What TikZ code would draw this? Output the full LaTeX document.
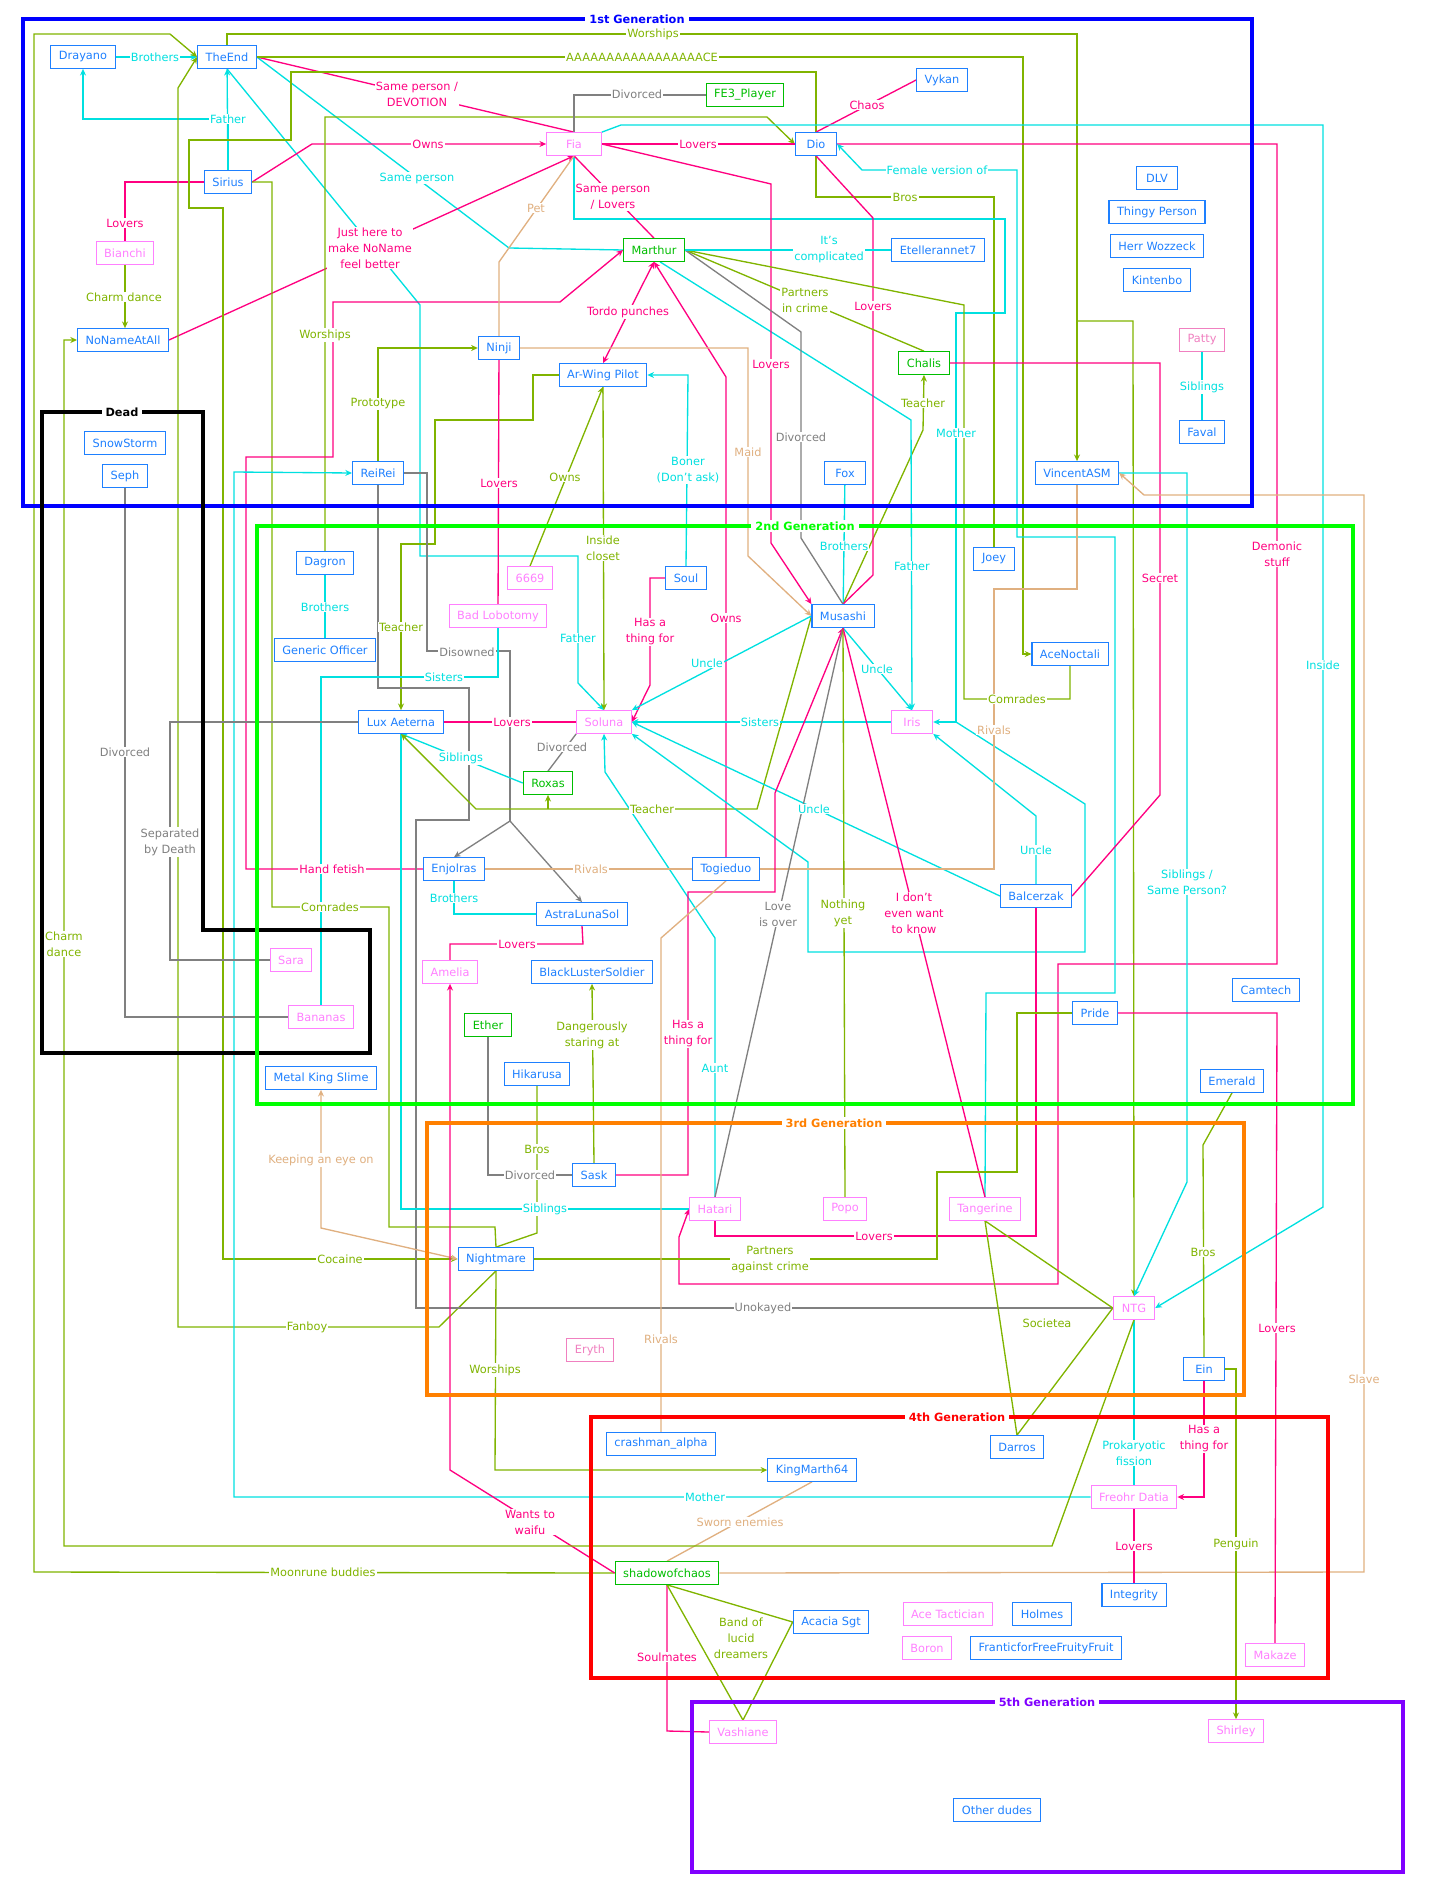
\documentclass[tikz,border=0pt]{standalone}
\usepackage{fontspec}
\setmainfont{DejaVu Sans}
\usetikzlibrary{arrows.meta}
\pgfdeclarelayer{lines}
\pgfdeclarelayer{frames}
\pgfsetlayers{lines,frames,main}

\definecolor{pBlue}{RGB}{30,128,255}
\definecolor{pPink}{RGB}{255,128,255}
\definecolor{pGreen}{RGB}{0,190,0}
\definecolor{pSalmon}{RGB}{240,128,192}
\definecolor{eCyan}{RGB}{0,224,224}
\definecolor{ePink}{RGB}{255,0,128}
\definecolor{eGreen}{RGB}{128,180,0}
\definecolor{eGray}{RGB}{128,128,128}
\definecolor{eTan}{RGB}{224,176,128}
\definecolor{fBlue}{RGB}{0,0,255}
\definecolor{fGreen}{RGB}{0,255,0}
\definecolor{fOrange}{RGB}{255,128,0}
\definecolor{fRed}{RGB}{255,0,0}
\definecolor{fPurple}{RGB}{128,0,255}

\begin{document}
\begin{tikzpicture}[
    x=0.75pt, y=-0.75pt,
    every node/.style={font=\fontsize{8.5}{12}\selectfont},
    pers/.style={rectangle, draw=pBlue, text=pBlue, fill=white, line width=0.8pt, minimum height=17pt, minimum width=31pt, inner xsep=6pt, inner ysep=0pt},
    persP/.style={pers, draw=pPink, text=pPink},
    persG/.style={pers, draw=pGreen, text=pGreen},
    persS/.style={pers, draw=pSalmon, text=pSalmon},
    rel/.style={line width=1pt},
    cy/.style={rel, draw=eCyan},
    pk/.style={rel, draw=ePink},
    gr/.style={rel, draw=eGreen},
    gy/.style={rel, draw=eGray},
    tn/.style={rel, draw=eTan},
    arr/.style={-{Stealth[length=5pt,width=4.5pt]}},
    arrs/.style={{Stealth[length=5pt,width=4.5pt]}-{Stealth[length=5pt,width=4.5pt]}},
    lbl/.style={fill=white, inner sep=0.8pt, align=center},
    lc/.style={lbl, text=eCyan},
    lp/.style={lbl, text=ePink},
    lg/.style={lbl, text=eGreen},
    ly/.style={lbl, text=eGray},
    lt/.style={lbl, text=eTan},
    genframe/.style={line width=3pt},
    gentitle/.style={fill=white, inner xsep=3pt, inner ysep=1pt, font=\fontsize{8.5}{12}\selectfont\bfseries}
]
    \useasboundingbox (0,0) rectangle (1436,1890);

    % 1st generation
    \node[pers] (drayano) at (83,57) {Drayano};
    \node[pers] (theend) at (227,57) {TheEnd};
    \node[pers] (sirius) at (228,182) {Sirius};
    \node[persP] (bianchi) at (125,253) {Bianchi};
    \node[pers] (nonameatall) at (123,340) {NoNameAtAll};
    \node[persP, minimum width=41pt] (fia) at (574,144) {Fia};
    \node[persG] (fe3) at (745,95) {FE3\_Player};
    \node[pers] (dio) at (816,144) {Dio};
    \node[pers] (vykan) at (942,80) {Vykan};
    \node[persG] (marthur) at (654,250) {Marthur};
    \node[pers] (etelle) at (938,250) {Etellerannet7};
    \node[pers] (ninji) at (499,348) {Ninji};
    \node[pers] (arwing) at (603,375) {Ar-Wing Pilot};
    \node[persG] (chalis) at (924,363) {Chalis};
    \node[pers] (reirei) at (378,473) {ReiRei};
    \node[pers] (fox) at (845,473) {Fox};
    \node[pers] (vincent) at (1077,473) {VincentASM};
    \node[pers] (dlv) at (1157,178) {DLV};
    \node[pers] (thingy) at (1157,212) {Thingy Person};
    \node[pers] (herr) at (1157,246) {Herr Wozzeck};
    \node[pers] (kintenbo) at (1157,280) {Kintenbo};
    \node[persS] (patty) at (1202,340) {Patty};
    \node[pers] (faval) at (1202,432) {Faval};
    % dead
    \node[pers] (snowstorm) at (125,443) {SnowStorm};
    \node[pers] (seph) at (125,476) {Seph};
    \node[persP] (sara) at (291,960) {Sara};
    \node[persP] (bananas) at (321,1017) {Bananas};
    % 2nd generation
    \node[pers] (dagron) at (325,563) {Dagron};
    \node[pers] (generic) at (325,650) {Generic Officer};
    \node[persP] (n6669) at (530,578) {6669};
    \node[pers] (soul) at (686,578) {Soul};
    \node[persP] (badlob) at (498,616) {Bad Lobotomy};
    \node[pers] (musashi) at (843,616) {Musashi};
    \node[pers] (joey) at (994,559) {Joey};
    \node[pers] (acenoc) at (1070,654) {AceNoctali};
    \node[pers] (luxa) at (401,722) {Lux Aeterna};
    \node[persP] (soluna) at (604,722) {Soluna};
    \node[persP] (iris) at (912,722) {Iris};
    \node[persG] (roxas) at (548,783) {Roxas};
    \node[pers] (enjolras) at (454,869) {Enjolras};
    \node[pers] (togieduo) at (726,869) {Togieduo};
    \node[pers] (balcerzak) at (1036,896) {Balcerzak};
    \node[pers] (astra) at (582,914) {AstraLunaSol};
    \node[persP] (amelia) at (450,972) {Amelia};
    \node[pers] (bls) at (592,972) {BlackLusterSoldier};
    \node[persG] (ether) at (488,1025) {Ether};
    \node[pers] (hikarusa) at (537,1074) {Hikarusa};
    \node[pers] (camtech) at (1266,990) {Camtech};
    \node[pers] (pride) at (1095,1013) {Pride};
    \node[pers] (metalking) at (321,1078) {Metal King Slime};
    \node[pers] (emerald) at (1232,1081) {Emerald};
    % 3rd generation
    \node[pers] (sask) at (594,1175) {Sask};
    \node[persP] (hatari) at (715,1209) {Hatari};
    \node[persP] (popo) at (845,1209) {Popo};
    \node[persP] (tangerine) at (985,1209) {Tangerine};
    \node[pers] (nightmare) at (496,1259) {Nightmare};
    \node[persP] (ntg) at (1134,1308) {NTG};
    \node[persS] (eryth) at (590,1350) {Eryth};
    \node[pers] (ein) at (1204,1369) {Ein};
    % 4th generation
    \node[pers] (crashman) at (661,1444) {crashman\_alpha};
    \node[pers] (kingmarth) at (812,1470) {KingMarth64};
    \node[pers] (darros) at (1017,1447) {Darros};
    \node[persP] (freohr) at (1134,1497) {Freohr Datia};
    \node[persG] (shadow) at (667,1573) {shadowofchaos};
    \node[pers] (integrity) at (1134,1595) {Integrity};
    \node[pers] (acacia) at (831,1622) {Acacia Sgt};
    \node[persP] (acetac) at (948,1614) {Ace Tactician};
    \node[pers] (holmes) at (1042,1614) {Holmes};
    \node[persP] (boron) at (927,1648) {Boron};
    \node[pers] (frantic) at (1046,1648) {FranticforFreeFruityFruit};
    \node[persP] (makaze) at (1275,1655) {Makaze};
    % 5th generation
    \node[persP] (vashiane) at (743,1732) {Vashiane};
    \node[persP] (shirley) at (1236,1731) {Shirley};
    \node[pers] (otherdudes) at (997,1810) {Other dudes};

    \begin{pgfonlayer}{lines}
    \draw[cy,arr] (drayano) -- (theend);
    \draw[cy,arr] (sirius) -- (theend);
    \draw[cy,arr] (sirius.north) -- (228,119) -| (drayano);
    \draw[cy,arr] (theend.south) -- (420,305) -- (420,556) -- (578,556) -- (578,683) -- (soluna.north);
    \draw[cy] (theend.east) -- (509,248) -- (marthur.west);
    \draw[pk] (theend.east) -- (fia.north);
    \draw[pk,arr] (sirius.east) -- (312,144) -- (fia.west);
    \draw[pk] (sirius.west) -| (bianchi);
    \draw[gr,arr] (bianchi.south) -- (bianchi.south |- nonameatall.north);
    \draw[pk,arr] (nonameatall.east) -- (fia.south);
    \draw[gr,arr] (shadow.west) -- (34,1572) -- (34,34) -- (170,34) -- (theend.west);
    \draw[gr,arr] (nightmare.south) -- (439,1327) -- (178,1327) -- (178,88) -- (theend.west);
    \draw[gr,arr] (theend.north) -- (227,34) -- (1077,34) -- (vincent.north);
    \draw[gr,arr] (theend.north) -- (227,34) -- (1077,34) -- (1077,321) -- (1133,321) -- (ntg.north);
    \draw[gr,arr] (theend.east) -- (1023,57) -- (1023,654) -- (acenoc.west);
    \draw[gr,arr] (dio.north) -- (816,72) -- (291,72) -- (291,140) -- (189,140) -- (189,208) -- (223,208) -- (223,1259) -- (nightmare.west);
    \draw[gr] (dio.south) -- (816,197) -- (994,197) -- (joey.north);
    \draw[gr,arr] (dagron.north) -- (325,117) -- (767,117) -- (dio.west);
    \draw[gr] (sirius.east) -- (272,182) -- (272,907) -- (389,907) -- (389,1227) -- (495,1227) -- (nightmare.north);
    \draw[gr,arr] (reirei.north) -- (378,348) -- (ninji.west);
    \draw[gr,arr] (arwing.west) -- (533,375) -- (533,420) -- (435,420) -- (435,544) -- (401,544) -- (luxa.north);
    \draw[pk,arr] (enjolras.west) -- (246,869) -- (246,457) -- (333,457) -- (333,302) -- (560,302) -- (marthur.west);
    \draw[cy,arr] (freohr.west) -- (234,1497) -- (234,472) -- (reirei.west);
    \draw[gy] (reirei.east) -- (427,473) -- (427,651) -- (510,651) -- (510,821) coordinate (dis);
    \draw[gy,arr] (dis) -- (enjolras.north);
    \draw[gy,arr] (dis) -- (astra.north);
    \draw[gy] (reirei.south) -- (378,688) -- (469,688) -- (469,820) -- (416,820) -- (416,1308) -- (ntg.west);
    \draw[cy] (badlob.south) -- (498,677) -- (321,677) -- (bananas.north);
    \draw[gy] (seph.south) |- (bananas.west);
    \draw[gy] (luxa.west) -- (170,722) -- (170,960) -- (sara.west);
    \draw[cy] (dagron) -- (generic);
    \draw[cy] (enjolras.south) |- (astra.west);
    \draw[cy,arr] (roxas.west) -- (luxa.south);
    \draw[cy] (luxa.south) -- (401,1209) -- (hatari.west);
    \draw[gr,arr] (musashi.west) -- (757,809) -- (548,809) coordinate (tch) -- (476,809) -- (luxa.south);
    \draw[gr,arr] (tch) -- (roxas.south);
    \draw[gr,arr] (musashi.north) -- (900,480) -- (923,430) -- (chalis.south);
    \draw[cy] (fox) -- (musashi);
    \draw[gr,arr] (arwing.south) -- (soluna.north);
    \draw[gr,arr] (n6669.north) -- (arwing.south);
    \draw[cy,arr] (soul.north) -- (688,375) -- (arwing.east);
    \draw[pk,arr] (soul.west) -- (650,578) -- (650,685) -- (soluna.east);
    \draw[pk,arr] (togieduo.north) -- (726,377) -- (marthur.south);
    \draw[pk,arrs] (marthur.south) -- (arwing.north);
    \draw[gy] (soluna.south west) -- (roxas.north);
    \draw[pk] (luxa) -- (soluna);
    \draw[cy,arr] (musashi.west) -- (soluna.north east);
    \draw[cy,arr] (musashi.south) -- (iris.north);
    \draw[cy,arr] ([xshift=4.5pt]marthur.south) -- (911,420) -- (iris.north);
    \draw[cy,arr] (iris) -- (soluna);
    \draw[cy,arr] (fia.south) -- (574,219) -- (1005,219) -- (1005,313) -- (956,313) -- (956,722) coordinate (mj) -- (iris.east);
    \draw[cy,arr] (mj) -- (1085,804) -- (1085,952) -- (808,952) -- (808,862) -- (soluna.south east);
    \draw[cy,arr] (balcerzak.west) -- (soluna.east);
    \draw[cy,arr] (balcerzak.north) -- (1036,816) -- (iris.south east);
    \draw[cy,arr] (hatari.north) -- (715,938) -- (605,772) -- (soluna.south);
    \draw[pk,arr] (fia.east) -- (771,184) -- (771,543) -- (musashi.north west);
    \draw[pk] (dio.south) -- (873,218) -- (873,575) -- (musashi.north);
    \draw[pk] (dio.north) -- (vykan.west);
    \draw[gy] (fia.north) |- (fe3.west);
    \draw[pk] (fia) -- (dio);
    \draw[pk] (fia.south) -- (marthur.north);
    \draw[tn] (ninji.north) -- (499,262) -- (fia.south);
    \draw[tn,arr] (ninji.east) -- (748,348) -- (748,556) -- (musashi.west);
    \draw[pk] (ninji) -- (badlob);
    \draw[cy,arr] (fia.north east) -- (621,125) -- (1323,125) -- (1323,1207) -- (ntg.east);
    \draw[pk,arr] (dio.east) -- (1277,144) -- (1277,964) -- (1058,964) -- (1058,1284) -- (679,1284) -- (679,1237) -- (hatari.west);
    \draw[cy,arr] (tangerine.north) -- (986,993) -- (1115,993) -- (1115,537) -- (1017,537) -- (1017,170) -- (862,170) -- (dio.east);
    \draw[gr] (marthur.east) -- (964,305) -- (964,699) -- (1070,699) -- (acenoc.south);
    \draw[gr] (marthur.east) -- (chalis.north);
    \draw[gy] (marthur.east) -- (801,332) -- (801,538) -- (musashi.north);
    \draw[cy] (marthur) -- (etelle);
    \draw[pk] (chalis.east) -- (1160,363) -- (1160,795) -- (balcerzak.east);
    \draw[cy,arr] (vincent.east) -- (1187,473) -- (1187,1182) -- (ntg.north);
    \draw[tn,arr] (shadow.east) -- (1364,1572) -- (1364,495) -- (1144,495) -- (vincent.east);
    \draw[tn] (vincent.south) -- (1077,589) -- (994,589) -- (994,869) -- (togieduo.east);
    \draw[tn] (enjolras) -- (togieduo);
    \draw[cy] (patty) -- (faval);
    \draw[tn,arrs] (metalking.south) -- (321,1228) -- (nightmare.west);
    \draw[pk,arr] (shadow.west) -- (450,1470) -- (amelia.south);
    \draw[pk] (astra.south) -- (583,944) -- (450,944) -- (amelia.north);
    \draw[gr,arr] (sask.north) -- (bls.south);
    \draw[gy] (ether.south) |- (sask.west);
    \draw[gr] (hikarusa.south) -- (537,1233) -- (nightmare.north);
    \draw[pk,arr] (sask.east) -- (688,1175) -- (688,892) -- (775,892) -- (775,793) -- (musashi.south);
    \draw[gy] (hatari.north) -- (musashi.south);
    \draw[gr] (popo.north) -- (musashi.south);
    \draw[pk] (musashi.south) -- (tangerine.north);
    \draw[pk] (hatari.south) -- (715,1236) -- (1036,1236) -- (balcerzak.south);
    \draw[gr] (nightmare.east) -- (937,1259) -- (937,1172) -- (1017,1172) -- (1017,1013) -- (pride.west);
    \draw[tn] (togieduo.south) -- (661,938) -- (crashman.north);
    \draw[gr,arr] (nightmare.south) -- (495,1470) -- (kingmarth.west);
    \draw[tn] (kingmarth.south) -- (shadow.north);
    \draw[pk] (shadow.south) -- (667,1731) -- (vashiane.west);
    \draw[gr] (shadow.south) -- (acacia.west) -- (vashiane.north) -- (shadow.south);
    \draw[gr] (emerald.south) -- (1203,1145) -- (ein.north);
    \draw[pk] (pride.east) -- (1277,1013) -- (makaze.north);
    \draw[gr] (tangerine.south) -- (ntg.west) -- (darros.north) -- (tangerine.south);
    \draw[cy] (ntg) -- (freohr);
    \draw[gr,arr] (ntg.south) -- (1052,1546) -- (64,1546) -- (64,340) -- (nonameatall.west);
    \draw[gr,arr] (ein.east) -- (1236,1369) -- (shirley.north);
    \draw[pk,arr] (ein.south) -- (1204,1497) -- (freohr.east);
    \draw[pk] (freohr) -- (integrity);
    \end{pgfonlayer}

    % generation frames
    \begin{pgfonlayer}{frames}
    \draw[genframe, draw=fBlue] (23,19) rectangle (1252,506);
    \draw[genframe, draw=black] (42,412) -- (203,412) -- (203,930) -- (370,930) -- (370,1053) -- (42,1053) -- cycle;
    \draw[genframe, draw=fGreen] (257,526) rectangle (1353,1104);
    \draw[genframe, draw=fOrange] (427,1123) rectangle (1244,1395);
    \draw[genframe, draw=fRed] (591,1417) rectangle (1328,1678);
    \draw[genframe, draw=fPurple] (692,1702) rectangle (1403,1872);
    \end{pgfonlayer}
    \node[gentitle, text=fBlue] (gen1) at (637,19) {1st Generation};
    \node[gentitle, text=black] (dead) at (122,412) {Dead};
    \node[gentitle, text=fGreen] (gen2) at (805,526) {2nd Generation};
    \node[gentitle, text=fOrange] (gen3) at (834,1123) {3rd Generation};
    \node[gentitle, text=fRed] (gen4) at (957,1417) {4th Generation};
    \node[gentitle, text=fPurple] (gen5) at (1047,1702) {5th Generation};

    % relation labels
    \node[lc] (lBrothers1) at (155,57) {Brothers};
    \node[lc] (lFather1) at (228,119) {Father};
    \node[lc] (lFather2) at (578,638) {Father};
    \node[lc] (lSameperson) at (417,178) {Same person};
    \node[lp] (lDevotion) at (417,94) {Same person /\\DEVOTION};
    \node[lp] (lOwns1) at (428,144) {Owns};
    \node[lp] (lLovers1) at (125,223) {Lovers};
    \node[lg] (lCharm1) at (124,297) {Charm dance};
    \node[lp] (lJusthere) at (370,248) {Just here to\\make NoName\\feel better};
    \node[lg] (lMoon) at (323,1572) {Moonrune buddies};
    \node[lg] (lFanboy) at (307,1327) {Fanboy};
    \node[lg] (lWorships1) at (653,34) {Worships};
    \node[lg] (lAce) at (642,57) {AAAAAAAAAAAAAAAAACE};
    \node[lg] (lCocaine) at (340,1259) {Cocaine};
    \node[lg] (lBros1) at (905,197) {Bros};
    \node[lg] (lWorships2) at (325,335) {Worships};
    \node[lg] (lComrades1) at (330,907) {Comrades};
    \node[lg] (lPrototype) at (378,404) {Prototype};
    \node[lg] (lTeacher1) at (401,627) {Teacher};
    \node[lp] (lHand) at (332,869) {Hand fetish};
    \node[lc] (lMother1) at (705,1497) {Mother};
    \node[ly] (lDisowned) at (467,652) {Disowned};
    \node[ly] (lUnokayed) at (763,1308) {Unokayed};
    \node[lc] (lSisters1) at (444,677) {Sisters};
    \node[ly] (lDivorced1) at (125,752) {Divorced};
    \node[ly] (lSeparated) at (170,842) {Separated\\by Death};
    \node[lc] (lBrothers2) at (325,607) {Brothers};
    \node[lc] (lBrothers3) at (454,898) {Brothers};
    \node[lc] (lSiblings1) at (461,758) {Siblings};
    \node[lc] (lSiblings2) at (545,1209) {Siblings};
    \node[lg] (lTeacher2) at (652,809) {Teacher};
    \node[lg] (lTeacher3) at (923,403) {Teacher};
    \node[lc] (lBrothers4) at (844,546) {Brothers};
    \node[lg] (lCloset) at (603,548) {Inside\\closet};
    \node[lg] (lOwns2) at (565,477) {Owns};
    \node[lc] (lBoner) at (688,470) {Boner\\(Don't ask)};
    \node[lp] (lThing1) at (650,632) {Has a\\thing for};
    \node[lp] (lOwns3) at (726,618) {Owns};
    \node[lp] (lTordo) at (628,312) {Tordo punches};
    \node[ly] (lDivorced2) at (562,747) {Divorced};
    \node[lp] (lLovers2) at (512,722) {Lovers};
    \node[lc] (lUncle1) at (707,663) {Uncle};
    \node[lc] (lUncle2) at (877,669) {Uncle};
    \node[lc] (lFather3) at (912,566) {Father};
    \node[lc] (lSisters2) at (760,722) {Sisters};
    \node[lc] (lMother2) at (956,433) {Mother};
    \node[lc] (lUncle3) at (814,809) {Uncle};
    \node[lc] (lUncle4) at (1036,850) {Uncle};
    \node[lc] (lAunt) at (715,1068) {Aunt};
    \node[lp] (lLovers3) at (771,364) {Lovers};
    \node[lp] (lLovers4) at (873,306) {Lovers};
    \node[lp] (lChaos) at (867,105) {Chaos};
    \node[ly] (lDivorced3) at (637,94) {Divorced};
    \node[lp] (lLovers5) at (698,144) {Lovers};
    \node[lp] (lSameLovers) at (613,197) {Same person\\/ Lovers};
    \node[lt] (lPet) at (536,208) {Pet};
    \node[lt] (lMaid) at (748,452) {Maid};
    \node[lp] (lLovers6) at (499,483) {Lovers};
    \node[lc] (lInside) at (1323,665) {Inside};
    \node[lp] (lDemonic) at (1277,554) {Demonic\\stuff};
    \node[lc] (lFemale) at (937,170) {Female version of};
    \node[lg] (lComrades2) at (1017,699) {Comrades};
    \node[lg] (lPartners1) at (805,300) {Partners\\in crime};
    \node[ly] (lDivorced4) at (801,437) {Divorced};
    \node[lc] (lComplicated) at (829,250) {It's\\complicated};
    \node[lp] (lSecret) at (1160,578) {Secret};
    \node[lc] (lSame2) at (1187,882) {Siblings /\\Same Person?};
    \node[lt] (lSlave) at (1364,1379) {Slave};
    \node[lt] (lRivals1) at (994,730) {Rivals};
    \node[lt] (lRivals2) at (591,869) {Rivals};
    \node[lc] (lSiblings3) at (1202,387) {Siblings};
    \node[lt] (lKeeping) at (321,1160) {Keeping an eye on};
    \node[lp] (lWaifu) at (530,1522) {Wants to\\waifu};
    \node[lp] (lLovers7) at (517,944) {Lovers};
    \node[lg] (lDanger) at (592,1035) {Dangerously\\staring at};
    \node[ly] (lDivorced5) at (530,1175) {Divorced};
    \node[lg] (lBros2) at (537,1149) {Bros};
    \node[lp] (lThing2) at (688,1034) {Has a\\thing for};
    \node[ly] (lLove) at (778,914) {Love\\is over};
    \node[lg] (lNothing) at (843,913) {Nothing\\yet};
    \node[lp] (lDont) at (914,913) {I don't\\even want\\to know};
    \node[lp] (lLovers8) at (874,1236) {Lovers};
    \node[lg] (lPartners2) at (770,1260) {Partners\\against crime};
    \node[lt] (lRivals3) at (661,1339) {Rivals};
    \node[lg] (lWorships3) at (495,1370) {Worships};
    \node[lt] (lSworn) at (740,1522) {Sworn enemies};
    \node[lp] (lSoulmates) at (667,1657) {Soulmates};
    \node[lg] (lBand) at (741,1638) {Band of\\lucid\\dreamers};
    \node[lg] (lBros3) at (1203,1252) {Bros};
    \node[lp] (lLovers9) at (1277,1328) {Lovers};
    \node[lg] (lSocietea) at (1047,1323) {Societea};
    \node[lc] (lFission) at (1134,1453) {Prokaryotic\\fission};
    \node[lg] (lCharm2) at (64,944) {Charm\\dance};
    \node[lg] (lPenguin) at (1236,1544) {Penguin};
    \node[lp] (lThing3) at (1204,1439) {Has a\\thing for};
    \node[lp] (lLovers10) at (1134,1546) {Lovers};
\end{tikzpicture}
\end{document}
